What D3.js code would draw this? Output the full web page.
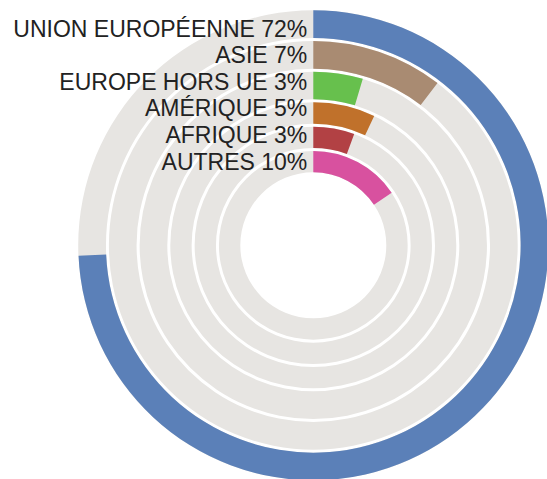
<!DOCTYPE html>
<html lang="fr">
    <head>
        <meta charset="utf-8">
        <title>régions</title>
        <script type="text/javascript" src="https://d3js.org/d3.v7.min.js"></script>
        <style>
            body { margin: 0; background: #fff; }
            text { font-family: "Liberation Sans", Arial, sans-serif; }
        </style>
    </head>
    <body>
		<svg width="547" height="479"></svg>

		<script type="text/javascript">
		// données
		const regions = ["UNION EUROPÉENNE", "ASIE", "EUROPE HORS UE", "AMÉRIQUE", "AFRIQUE", "AUTRES"];
		const pourcentages = [72, 7, 3, 5, 3, 10];
		// part du tour occupée par chaque arc (en % du cercle), estimée sur l'image
		const partsDuTour = [74.3, 10.4, 4.6, 7.0, 5.6, 15.6];
		const couleurs = ["#5b80b8", "#a98b72", "#67c04d", "#c0712b", "#b24144", "#d8519f"];

		const cx = 313.3, cy = 245.3;
		const ecart = 3;

		var angle = d3.scaleLinear()
					.domain([0, 100])
					.range([0, 2 * Math.PI]);

		// bord des anneaux, de l'intérieur (0) vers l'extérieur (6) :
		// les anneaux du centre sont plus fins que ceux de l'extérieur
		var rayon = d3.scaleLinear()
					.domain([0, regions.length / 2, regions.length])
					.range([71.5, 144.5, 236.5]);

		var yLabel = d3.scalePoint()
					.domain(regions)
					.range([36.7, 169.6]);

		function interieur(i) { return rayon(regions.length - 1 - i) + ecart / 2 }
		function exterieur(i) { return rayon(regions.length - i) - ecart / 2 }

		var arcFond = d3.arc()
					.innerRadius(function (d, i) { return interieur(i) })
					.outerRadius(function (d, i) { return exterieur(i) })
					.startAngle(0)
					.endAngle(2 * Math.PI);

		var arcValeur = d3.arc()
					.innerRadius(function (d, i) { return interieur(i) })
					.outerRadius(function (d, i) { return exterieur(i) })
					.startAngle(0)
					.endAngle(function (d) { return angle(d) });

		var svg = d3.select("svg");
		var gGraph = svg.append("g")
						.attr("transform", "translate(" + cx + "," + cy + ")");

		gGraph.append("g")
				.classed("fonds", true)
				.selectAll("path")
				.data(partsDuTour)
				.enter()
				.append("path")
					.attr("fill", "#e7e5e2")
					.attr("d", function (d, i) { return arcFond(d, i) });

		gGraph.append("g")
				.classed("valeurs", true)
				.selectAll("path")
				.data(partsDuTour)
				.enter()
				.append("path")
					.attr("fill", function (d, i) { return couleurs[i] })
					.attr("d", function (d, i) { return arcValeur(d, i) });

		svg.append("g")
				.classed("labels", true)
				.selectAll("text")
				.data(regions)
				.enter()
				.append("text")
					.attr("x", cx - 6)
					.attr("y", function (d) { return yLabel(d) })
					.attr("text-anchor", "end")
					.attr("font-size", 23)
					.attr("fill", "#222")
					.text(function (d, i) { return d + " " + pourcentages[i] + "%" });
        </script>
    </body>
</html>
